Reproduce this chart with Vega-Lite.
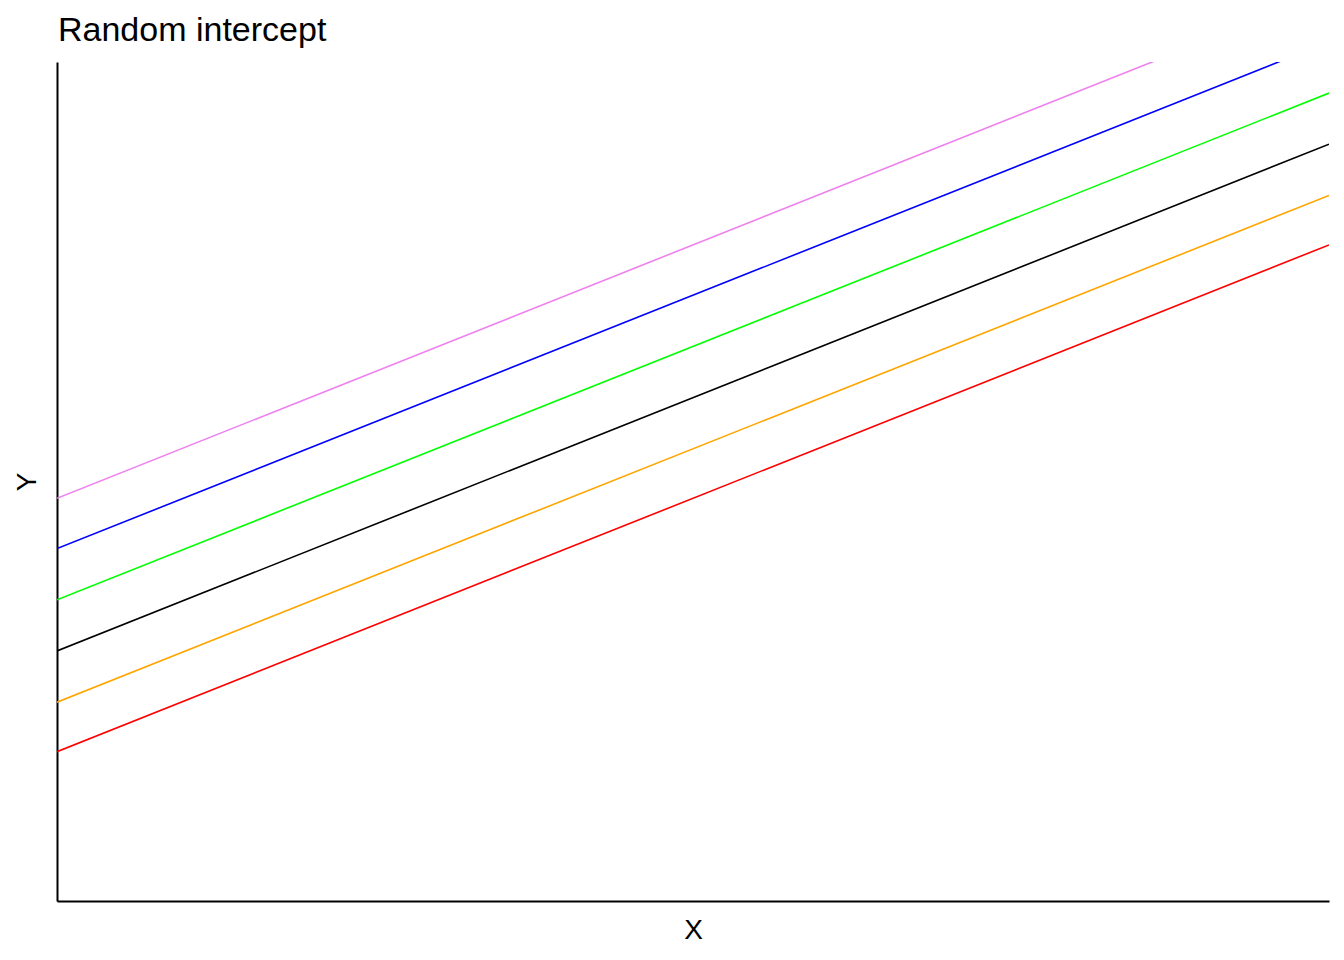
{
  "$schema": "https://vega.github.io/schema/vega-lite/v6.json",
  "width": 1272,
  "height": 839,
  "autosize": {"type": "none"},
  "padding": {"left": 57, "top": 62, "right": 15, "bottom": 59},
  "background": "white",
  "config": {"view": {"stroke": null}, "font": "Liberation Sans"},
  "title": {"text": "Random intercept", "anchor": "start", "frame": "group", "fontSize": 34, "fontWeight": "normal", "font": "Liberation Sans", "color": "black", "offset": 14, "dx": 1},
  "data": {"values": [
    {"group": "violet", "x": 0, "y": 48.0}, {"group": "violet", "x": 100, "y": 108.4},
    {"group": "blue", "x": 0, "y": 42.0}, {"group": "blue", "x": 100, "y": 102.4},
    {"group": "green", "x": 0, "y": 35.9}, {"group": "green", "x": 100, "y": 96.3},
    {"group": "black", "x": 0, "y": 29.8}, {"group": "black", "x": 100, "y": 90.2},
    {"group": "orange", "x": 0, "y": 23.7}, {"group": "orange", "x": 100, "y": 84.1},
    {"group": "red", "x": 0, "y": 17.8}, {"group": "red", "x": 100, "y": 78.2}
  ]},
  "mark": {"type": "line", "clip": true, "strokeWidth": 1.6},
  "encoding": {
    "x": {"field": "x", "type": "quantitative", "scale": {"domain": [0, 100], "nice": false, "zero": false},
      "axis": {"title": "X", "labels": false, "ticks": false, "grid": false, "domainColor": "black", "domainWidth": 2, "titleFontSize": 28, "titleFontWeight": "normal", "titleColor": "black", "titlePadding": 15, "titleFont": "Liberation Sans"}},
    "y": {"field": "y", "type": "quantitative", "scale": {"domain": [0, 100], "nice": false, "zero": false},
      "axis": {"title": "Y", "labels": false, "ticks": false, "grid": false, "domainColor": "black", "domainWidth": 2, "titleFontSize": 28, "titleFontWeight": "normal", "titleColor": "black", "titlePadding": 16, "titleFont": "Liberation Sans"}},
    "color": {"field": "group", "type": "nominal", "legend": null,
      "scale": {"domain": ["violet", "blue", "green", "black", "orange", "red"], "range": ["#EE82EE", "#0000FF", "#00FF00", "#000000", "#FFA500", "#FF0000"]}},
    "detail": {"field": "group"}
  }
}
